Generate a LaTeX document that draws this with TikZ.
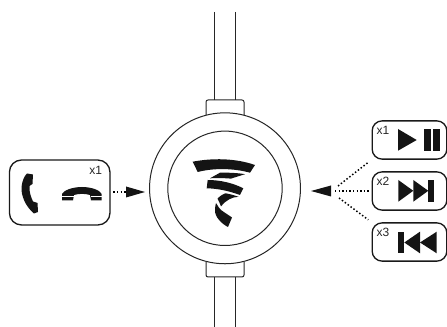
\documentclass[tikz,border=0pt]{standalone}
\usepackage{fontspec}
\setmainfont{Liberation Sans}
\tikzset{
  ln/.style={draw=black!85,line width=0.75pt},
  btn/.style={draw=black!90,line width=1pt,rounded corners=7.5pt,inner sep=0pt,minimum width=56pt,minimum height=28.7pt},
  bigbtn/.style={btn,rounded corners=9pt,minimum width=75.4pt,minimum height=48.7pt},
  count/.style={inner sep=0pt,font=\fontsize{9}{10}\selectfont,text=black!85},
  dots/.style={line width=1.1pt,dash pattern=on 1.1pt off 1.6pt,draw=black},
  ink/.style={fill=black!92,draw=none}
}
\begin{document}
\begin{tikzpicture}[x=0.75pt,y=-0.75pt]
\useasboundingbox (0,0) rectangle (447,327);
% stems and collars
\draw[ln] (214.3,12) -- (214.3,100) (235.7,12) -- (235.7,100);
\draw[ln] (214.3,277) -- (214.3,327) (235.7,277) -- (235.7,327);
\draw[ln,rounded corners=1.5pt] (206,115) -- (206,100) -- (244,100) -- (244,115);
\draw[ln,rounded corners=1.5pt] (206,262) -- (206,277) -- (244,277) -- (244,262);
% circles
\node[circle,ln,fill=white,minimum size=113.2pt,inner sep=0pt] (outer) at (225,188.3) {};
\node[circle,ln,minimum size=85.8pt,inner sep=0pt] (inner) at (225,188.3) {};
% logo
\fill[ink] (192.7,161.7) .. controls (212,158) and (235,158) .. (255,165) -- (250,172.7) .. controls (233,168) and (213,168) .. (197.7,172) -- cycle;
\fill[ink] (210,178.3) -- (220,172.7) .. controls (229,172.5) and (238,173) .. (245,174.2) -- (231,178.6) .. controls (224,178) and (216,178) .. (210,178.3) -- cycle;
\fill[ink] (207.7,180) .. controls (220,180) and (233,183) .. (243.3,188.3) -- (240,195) .. controls (229,191) and (218,188.5) .. (206.7,188.3) -- cycle;
\fill[ink] (217.5,198.5) .. controls (221,195) and (225,193.3) .. (225.5,193.3) .. controls (230,194) and (235,195.5) .. (238.5,196.8) .. controls (232,197) and (226,200) .. (221,206.5) .. controls (220,204) and (219,201) .. (217.5,198.5) -- cycle;
\fill[ink] (216,203) .. controls (218,206) and (219.5,209) .. (221,210) .. controls (225,213) and (230,216) .. (232,217.5) -- (228,227) .. controls (222,224) and (214.5,217) .. (215,210) .. controls (215,207) and (215.5,205) .. (216,203) -- cycle;
% left button
\node[bigbtn] (leftbox) at (59.7,192.5) {};
\fill[ink] (27,173.5) -- (33,174.5) -- (32.5,184) -- (29.5,186) .. controls (29,192) and (31,197) .. (33,201.5) -- (37.5,203) -- (38,212) -- (34,213.5) .. controls (25,206) and (21,195) .. (21.5,187) .. controls (22,182) and (24,176) .. (27,173.5) -- cycle;
\fill[ink] (62,194) .. controls (64,190) and (73,187) .. (82,187) .. controls (91,187) and (100,190) .. (101.7,194) -- (101.7,200.5) -- (91,200.5) -- (90,195) .. controls (85,193.5) and (79,193.5) .. (74,195) -- (73,200.5) -- (62,200.5) -- cycle;
\draw[white,line width=0.4pt] (62,196) -- (73.5,196) (90.5,196) -- (101.7,196);
\node[count] (xleft) at (95.8,170.5) {x1};
% right buttons
\node[btn] (play) at (409.5,140) {};
\node[btn] (next) at (409.5,191) {};
\node[btn] (prev) at (409.5,242) {};
\node[count] (xa) at (383,130.5) {x1};
\node[count] (xb) at (383,181.5) {x2};
\node[count] (xc) at (383,232.5) {x3};
% play / pause
\fill[ink] (398,129) -- (416.7,140) -- (398,150.7) -- cycle;
\fill[ink] (424,129) rectangle (430.7,150.7);
\fill[ink] (433.3,129) rectangle (440,150.7);
% next
\fill[ink] (398.3,180) -- (413.3,190.8) -- (398.3,201.7) -- cycle;
\fill[ink] (413.3,180) -- (428.3,190.8) -- (413.3,201.7) -- cycle;
\fill[ink] (428.3,180) rectangle (434,201.7);
% prev
\fill[ink] (397.7,231.7) rectangle (404.3,253.3);
\fill[ink] (420,231.7) -- (404.3,242.5) -- (420,253.3) -- cycle;
\fill[ink] (436.7,231.7) -- (420,242.5) -- (436.7,253.3) -- cycle;
% arrowheads
\coordinate (la) at (145,192);
\coordinate (lb) at (126,192);
\coordinate (ra) at (311,191);
\coordinate (rb) at (331,191);
\fill[ink] (lb) ++(0,-5.5) -- (la) -- (126,197.5) -- cycle;
\fill[ink] (rb) ++(0,-5.5) -- (ra) -- (331,196.5) -- cycle;
% dotted connectors
\coordinate (j1) at (338,186);
\coordinate (j2) at (335,191);
\coordinate (j3) at (339,198);
\draw[dots,shorten <=2pt] (leftbox.east |- lb) -- (lb);
\draw[dots,shorten >=3pt] (j1) -- (play.south west);
\draw[dots,shorten >=2pt] (j2) -- (next.west);
\draw[dots,shorten >=3pt] (j3) -- (prev.north west);
\end{tikzpicture}
\end{document}
